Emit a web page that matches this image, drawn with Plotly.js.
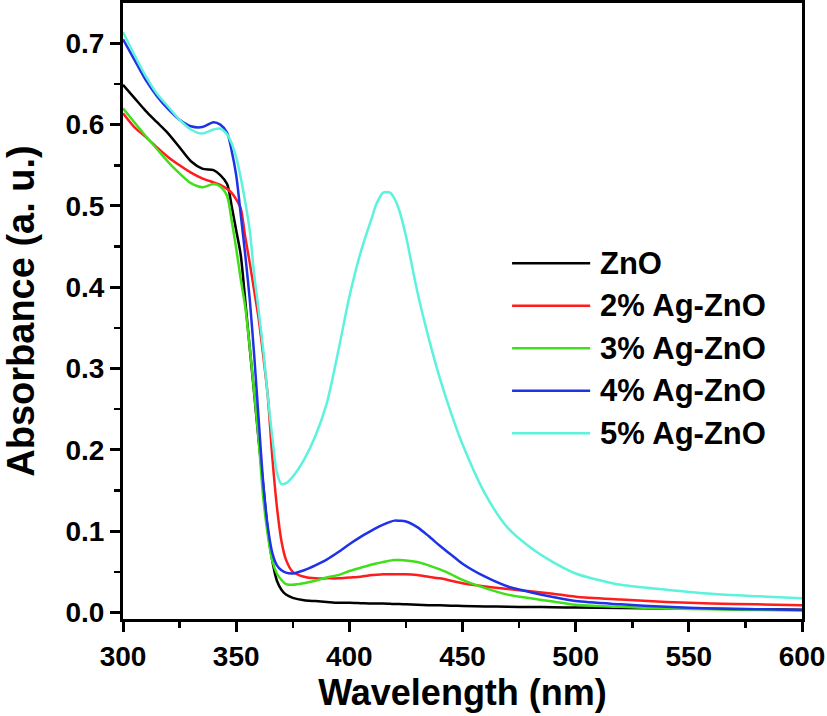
<!DOCTYPE html>
<html lang="en">
<head>
    <meta charset="UTF-8">
    <title>UV-Vis Absorbance of Ag-ZnO</title>
    <script src="https://cdn.plot.ly/plotly-3.0.0.min.js" charset="utf-8"></script>
    <style>
        body {
            margin: 0;
            background: #ffffff;
        }

        #plot {
            width: 827px;
            height: 716px;
        }
    </style>
</head>
<body>
<div id="plot"></div>

<script>
    // Wavelength grid (nm), shared by all spectra
    const wavelength = [
        300, 305, 310, 315, 320, 325, 330, 335, 340, 343, 346, 348, 350, 352, 354, 356, 358, 360,
        362, 364, 366, 368, 370, 372, 375, 380, 385, 390, 395, 400, 405, 410, 412, 415, 418, 420,
        422, 425, 430, 435, 440, 445, 450, 460, 470, 480, 490, 500, 520, 540, 560, 580, 600
    ];

    // Absorbance values
    const znO = [
        0.649, 0.633, 0.617, 0.603, 0.589, 0.572, 0.555, 0.546, 0.544, 0.538, 0.527, 0.500, 0.470, 0.440, 0.384, 0.325, 0.268, 0.210,
        0.155, 0.100, 0.063, 0.039, 0.028, 0.022, 0.018, 0.015, 0.014, 0.013, 0.012, 0.012, 0.0115, 0.011, 0.011, 0.011, 0.0107, 0.0105,
        0.0103, 0.010, 0.0095, 0.009, 0.0088, 0.0084, 0.008, 0.0075, 0.007, 0.0068, 0.0064, 0.006, 0.0055, 0.005, 0.0045, 0.004, 0.0035
    ];
    const ag2 = [
        0.614, 0.597, 0.585, 0.572, 0.560, 0.550, 0.541, 0.534, 0.529, 0.526, 0.521, 0.516, 0.508, 0.497, 0.462, 0.430, 0.395, 0.360,
        0.315, 0.265, 0.190, 0.130, 0.088, 0.065, 0.050, 0.044, 0.042, 0.042, 0.042, 0.043, 0.044, 0.046, 0.0465, 0.047, 0.047, 0.047,
        0.047, 0.047, 0.046, 0.044, 0.042, 0.039, 0.036, 0.032, 0.029, 0.026, 0.023, 0.0195, 0.016, 0.013, 0.011, 0.010, 0.009
    ];
    const ag3 = [
        0.620, 0.603, 0.586, 0.570, 0.554, 0.540, 0.528, 0.523, 0.527, 0.524, 0.512, 0.482, 0.448, 0.410, 0.376, 0.326, 0.270, 0.210,
        0.140, 0.095, 0.063, 0.048, 0.040, 0.035, 0.034, 0.036, 0.039, 0.043, 0.046, 0.051, 0.055, 0.059, 0.0603, 0.062, 0.0638, 0.0645,
        0.0645, 0.064, 0.062, 0.058, 0.053, 0.047, 0.040, 0.030, 0.022, 0.0175, 0.0135, 0.0095, 0.007, 0.005, 0.004, 0.003, 0.0025
    ];
    const ag4 = [
        0.705, 0.680, 0.655, 0.635, 0.619, 0.606, 0.598, 0.597, 0.603, 0.600, 0.590, 0.568, 0.538, 0.490, 0.440, 0.385, 0.315, 0.235,
        0.158, 0.105, 0.073, 0.058, 0.052, 0.049, 0.048, 0.052, 0.058, 0.065, 0.074, 0.084, 0.093, 0.101, 0.104, 0.108, 0.1115, 0.113,
        0.1128, 0.112, 0.105, 0.094, 0.082, 0.071, 0.060, 0.044, 0.032, 0.025, 0.019, 0.014, 0.010, 0.007, 0.005, 0.004, 0.003
    ];
    const ag5 = [
        0.714, 0.686, 0.660, 0.638, 0.622, 0.606, 0.594, 0.589, 0.594, 0.595, 0.588, 0.577, 0.560, 0.535, 0.505, 0.470, 0.415, 0.370,
        0.322, 0.265, 0.215, 0.172, 0.158, 0.159, 0.167, 0.188, 0.217, 0.257, 0.320, 0.388, 0.443, 0.486, 0.5026, 0.5163, 0.5163, 0.5087,
        0.495, 0.463, 0.395, 0.338, 0.288, 0.245, 0.207, 0.146, 0.104, 0.080, 0.062, 0.048, 0.034, 0.028, 0.023, 0.020, 0.0175
    ];

    const seriesNames = ['ZnO', '2% Ag-ZnO', '3% Ag-ZnO', '4% Ag-ZnO', '5% Ag-ZnO'];
    const seriesValues = [znO, ag2, ag3, ag4, ag5];
    const seriesColors = ['#000000', '#ff1c1c', '#3fe01a', '#1f32e8', '#5cf2dc'];

    const xTicks = [300, 350, 400, 450, 500, 550, 600];
    const yTicks = [0.0, 0.1, 0.2, 0.3, 0.4, 0.5, 0.6, 0.7];

    const fontFamily = 'Arial, "Liberation Sans", sans-serif';

    // Spectra traces
    const traces = seriesValues.map((vals, i) => ({
        x: wavelength,
        y: vals,
        name: seriesNames[i],
        mode: 'lines',
        line: { color: seriesColors[i], width: 2.5, shape: 'spline', smoothing: 0.8 },
        showlegend: false
    }));

    // Legend drawn as line samples + labels in paper space
    const legendTop = 0.5775;
    const legendStep = 0.069;
    const shapes = [];
    const annotations = [];
    seriesNames.forEach((name, i) => {
        const y = legendTop - i * legendStep;
        shapes.push({
            type: 'line', xref: 'paper', yref: 'paper',
            x0: 0.573, x1: 0.688, y0: y, y1: y,
            line: { color: seriesColors[i], width: 2.5 }
        });
        annotations.push({
            xref: 'paper', yref: 'paper', x: 0.700, y: y,
            xanchor: 'left', yanchor: 'middle', showarrow: false,
            text: name,
            font: { family: fontFamily, size: 31, color: '#000000', weight: 'bold' }
        });
    });

    const layout = {
        width: 827,
        height: 716,
        margin: { l: 123, r: 25, t: 3, b: 97 },
        paper_bgcolor: '#ffffff',
        plot_bgcolor: '#ffffff',
        showlegend: false,
        xaxis: {
            range: [300, 600],
            tickvals: xTicks,
            ticktext: xTicks.map(String),
            ticks: 'outside',
            ticklen: 10,
            tickwidth: 3,
            tickcolor: '#000000',
            minor: { dtick: 25, tick0: 300, ticks: 'outside', ticklen: 6, tickwidth: 2.5, tickcolor: '#000000' },
            showline: true,
            linewidth: 3,
            linecolor: '#000000',
            mirror: true,
            showgrid: false,
            zeroline: false,
            tickfont: { family: fontFamily, size: 28, color: '#000000', weight: 'bold' },
            title: {
                text: 'Wavelength (nm)',
                standoff: 10,
                font: { family: fontFamily, size: 36, color: '#000000', weight: 'bold' }
            }
        },
        yaxis: {
            range: [-0.008, 0.7496],
            tickvals: yTicks,
            ticktext: yTicks.map(v => v.toFixed(1)),
            ticks: 'outside',
            ticklen: 10,
            tickwidth: 3,
            tickcolor: '#000000',
            minor: { dtick: 0.05, tick0: 0, ticks: 'outside', ticklen: 6, tickwidth: 2.5, tickcolor: '#000000' },
            showline: true,
            linewidth: 3,
            linecolor: '#000000',
            mirror: true,
            showgrid: false,
            zeroline: false,
            tickfont: { family: fontFamily, size: 28, color: '#000000', weight: 'bold' },
            title: {
                text: 'Absorbance (a. u.)',
                standoff: 20,
                font: { family: fontFamily, size: 38, color: '#000000', weight: 'bold' }
            }
        },
        shapes: shapes,
        annotations: annotations
    };

    Plotly.newPlot('plot', traces, layout, { staticPlot: true, displayModeBar: false });
</script>
</body>
</html>
